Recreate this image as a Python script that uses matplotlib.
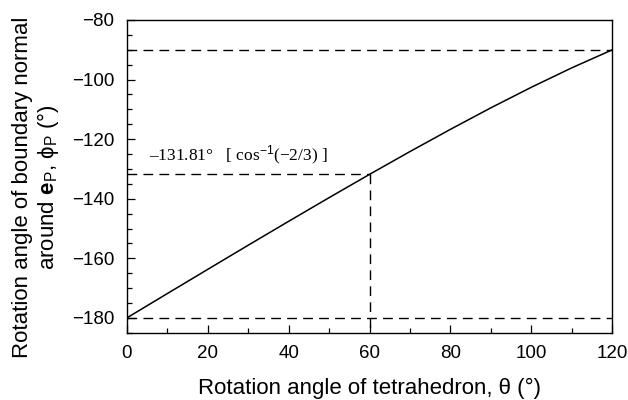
import matplotlib.pyplot as plt
from matplotlib.ticker import MultipleLocator

# rotation of the tetrahedron (deg) and boundary normal angle phi_P (deg)
theta = [0, 10, 20, 30, 40, 50, 60, 70, 80, 90, 100, 110, 120]
phi = [-180.0, -171.83, -163.70, -155.60, -147.57, -139.63, -131.81,
       -124.15, -116.69, -109.47, -102.57, -96.05, -90.0]

phi_mark = -131.81
theta_mark = 60
ref_levels = [-90, -180]

plt.rcParams["font.family"] = ["Liberation Sans", "DejaVu Sans"]
plt.rcParams["mathtext.fontset"] = "custom"
plt.rcParams["mathtext.rm"] = "Liberation Sans"
plt.rcParams["mathtext.it"] = "Liberation Sans:italic"
plt.rcParams["mathtext.bf"] = "Liberation Sans:bold"

fig = plt.figure(figsize=(6.28, 4.0), dpi=100)
ax = fig.add_axes([0.202, 0.168, 0.773, 0.782])

dash = (0, (7, 4.5))
for lvl in ref_levels:
    ax.plot([0, 120], [lvl, lvl], color="black", lw=1.0, ls=dash)
ax.plot([0, theta_mark], [phi_mark, phi_mark], color="black", lw=1.0, ls=dash)
ax.plot([theta_mark, theta_mark], [phi_mark, -185], color="black", lw=1.0, ls=dash)

ax.plot(theta, phi, color="black", lw=1.1)

ax.text(5.5, -125.3, "\u2013131.81\u00b0   [ cos$^{-1}$(\u22122/3) ]",
        family=["Liberation Serif", "DejaVu Serif"], fontsize=12.5,
        va="center", ha="left")

ax.set_xlim(0, 120)
ax.set_ylim(-185, -80)
ax.xaxis.set_major_locator(MultipleLocator(20))
ax.xaxis.set_minor_locator(MultipleLocator(10))
ax.yaxis.set_major_locator(MultipleLocator(20))
ax.yaxis.set_minor_locator(MultipleLocator(5))
ax.tick_params(which="both", direction="in", top=False, right=False,
               labelsize=13.5, width=0.9)
ax.tick_params(which="major", length=6, pad=9)
ax.tick_params(which="minor", length=3.5)
for s in ax.spines.values():
    s.set_linewidth(1.0)

ax.set_xlabel("Rotation angle of tetrahedron, \u03b8 (\u00b0)", fontsize=16, labelpad=11)
ax.set_ylabel("Rotation angle of boundary normal\n"
              r"around $\mathbf{e}_{\mathrm{P}}$, " "\u03d5" r"$_{\mathrm{P}}$ (°)",
              fontsize=16, linespacing=1.1)
ax.yaxis.set_label_coords(-0.135, 0.465)

fig.savefig("out.png", dpi=100)
